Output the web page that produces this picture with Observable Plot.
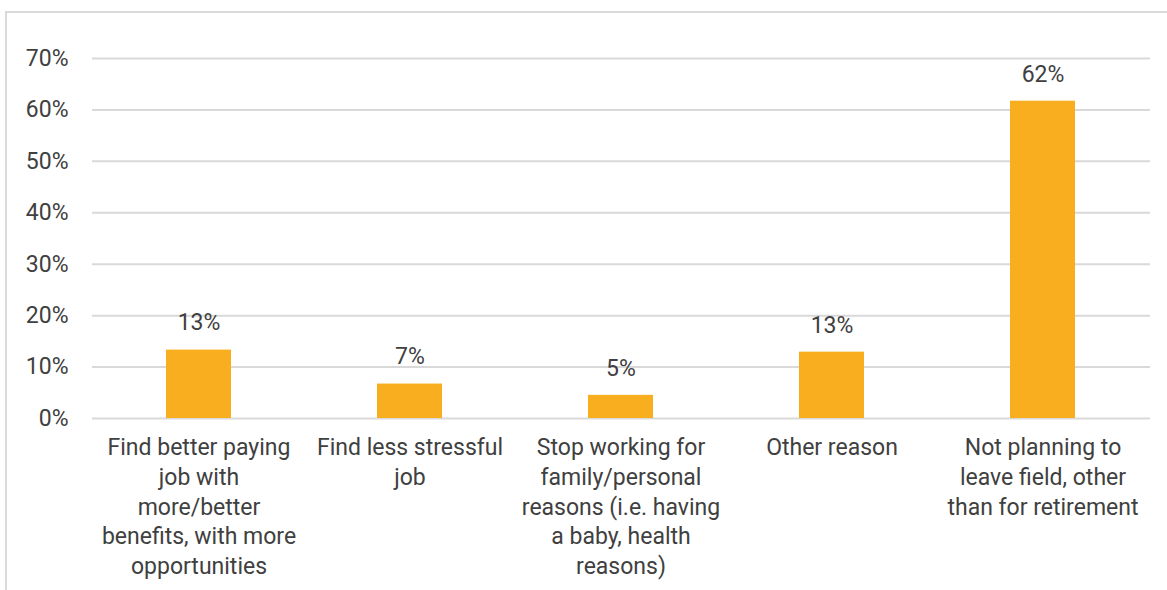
<!DOCTYPE html>
<html>
<head>
<meta charset="utf-8">
<script src="https://cdn.jsdelivr.net/npm/d3@7"></script>
<script src="https://cdn.jsdelivr.net/npm/@observablehq/plot@0.6"></script>
<style>
  html, body { margin: 0; padding: 0; background: #ffffff; }
  #wrap { position: relative; width: 1167px; height: 590px; overflow: hidden; }
  #frame { position: absolute; left: 5px; top: 11px; width: 1170px; height: 600px;
           border-top: 2px solid #dadada; border-left: 2px solid #dadada; box-sizing: border-box; }
  #chart { position: absolute; left: 0; top: 0; }
</style>
</head>
<body>
<div id="wrap"><div id="frame"></div><div id="chart"></div></div>
<script>
const categories = [
  "Find better paying job with more/better benefits, with more opportunities",
  "Find less stressful job",
  "Stop working for family/personal reasons (i.e. having a baby, health reasons)",
  "Other reason",
  "Not planning to leave field, other than for retirement"
];
const tickLabels = [
  "Find better paying\njob with\nmore/better\nbenefits, with more\nopportunities",
  "Find less stressful\njob",
  "Stop working for\nfamily/personal\nreasons (i.e. having\na baby, health\nreasons)",
  "Other reason",
  "Not planning to\nleave field, other\nthan for retirement"
];
const values = [13.3, 6.7, 4.5, 12.9, 61.7];
const valueLabels = ["13%", "7%", "5%", "13%", "62%"];
const yTicks = [0, 10, 20, 30, 40, 50, 60, 70];

const table = categories.map((c, i) => ({
  category: c, value: values[i], label: valueLabels[i], tick: tickLabels[i]
}));

const textColor = "#404040";
const fs = 23;

const chart = Plot.plot({
  width: 1167,
  height: 590,
  marginLeft: 92,
  marginRight: 17,
  marginTop: 58,
  marginBottom: 172,
  style: { fontFamily: "Roboto, sans-serif", fontSize: fs + "px", color: textColor, background: "transparent" },
  x: { domain: categories, paddingInner: 0.69, paddingOuter: 0.345, axis: null },
  y: { domain: [0, 70], axis: null },
  marks: [
    Plot.gridY(yTicks, { stroke: "#d9d9d9", strokeOpacity: 1, strokeWidth: 2 }),
    Plot.axisY(yTicks, { tickSize: 0, tickPadding: 24, tickFormat: d => d + "%", fontSize: fs, fill: textColor, label: null }),
    Plot.barY(table, { x: "category", y: "value", fill: "#F9AE1F" }),
    Plot.text(table, { x: "category", y: "value", text: "label", dy: -27, fontSize: fs, fill: textColor }),
    Plot.text(table, { x: "category", frameAnchor: "bottom", text: "tick", lineAnchor: "top", dy: 15, lineHeight: 1.3, fontSize: fs, fill: textColor })
  ]
});
document.getElementById("chart").appendChild(chart);
</script>
</body>
</html>
